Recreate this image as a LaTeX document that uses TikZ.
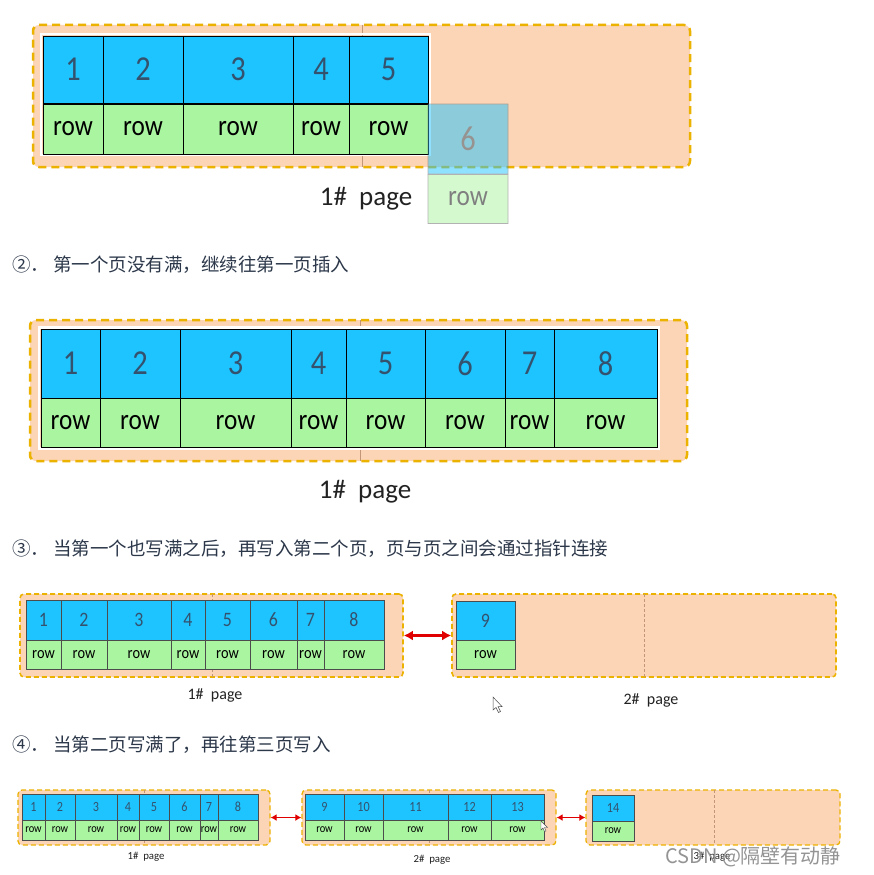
\documentclass[tikz,border=0pt]{standalone}
\usepackage{fontspec}
\setmainfont{Carlito}
\newfontfamily\cellfont[FakeStretch=0.87]{Carlito}
\newfontfamily\cjk{Noto Sans CJK SC}
\usetikzlibrary{arrows.meta}
\definecolor{cellblue}{RGB}{30,196,255}
\definecolor{cellgreen}{RGB}{170,245,160}
\definecolor{pagefill}{RGB}{251,213,181}
\definecolor{pagedash}{RGB}{236,178,0}
\definecolor{digitc}{RGB}{52,82,110}
\definecolor{headtext}{RGB}{44,56,74}
\definecolor{arrowred}{RGB}{225,0,0}
\definecolor{splitc}{RGB}{196,150,120}
\definecolor{labelc}{RGB}{34,34,34}
\tikzset{
  pagebig/.style={draw=pagedash, fill=pagefill, dash pattern=on 8pt off 5pt, line width=2.5pt, rounded corners=6pt, inner sep=0pt},
  pagesmall/.style={draw=pagedash, fill=pagefill, dash pattern=on 5pt off 3pt, line width=1.6pt, rounded corners=4pt, inner sep=0pt},
  bluecell/.style={draw=black, fill=cellblue, line width=0.9pt, inner sep=0pt, text=digitc},
  greencell/.style={draw=black, fill=cellgreen, line width=0.9pt, inner sep=0pt, text=black},
  bluesm/.style={bluecell, draw=black!70},
  greensm/.style={greencell, draw=black!70},
  heading/.style={anchor=west, inner sep=0pt, text=headtext, font=\cjk\fontsize{18.5}{22}\selectfont},
  pagelabel/.style={inner sep=0pt, text=labelc},
  splitline/.style={draw=splitc, line width=0.6pt},
  splitdash/.style={draw=splitc, line width=0.6pt, dash pattern=on 3pt off 2pt},
  link/.style={draw=arrowred, line width=2.5pt, {Latex[length=9pt,width=10pt]}-{Latex[length=9pt,width=10pt]}},
  linksm/.style={draw=arrowred, line width=1.6pt, {Latex[length=6pt,width=7pt]}-{Latex[length=6pt,width=7pt]}},
}
\begin{document}
\begin{tikzpicture}[x=1pt,y=-1pt]
\useasboundingbox (0,0) rectangle (874,875);
\fill[white] (0,0) rectangle (874,875);

% ---------------- Section 1 ----------------
\node[pagebig, minimum width=657pt, minimum height=142pt] (pA) at (361.5,96) {};
\draw[splitline] (362,25) -- (362,167);
\draw[white, line width=2.2pt] (41,34) rectangle (430,155);
\foreach \xa/\xb/\lab [count=\i] in {43/103/1,103/183/2,183/293/3,293/349/4,349/428/5}{
  \node[bluecell, minimum width={(\xb-\xa)*1pt}, minimum height=67pt, font=\cellfont\fontsize{35}{38}\selectfont] (aB\i) at ({(\xa+\xb)/2},69.5) {\lab};
  \node[greencell, minimum width={(\xb-\xa)*1pt}, minimum height=50pt, font=\cellfont\fontsize{29}{32}\selectfont] (aG\i) at ({(\xa+\xb)/2},129) {row};
}
\begin{scope}[opacity=0.5, transparency group]
\node[bluecell, draw=black!60, minimum width=80pt, minimum height=70pt, font=\cellfont\fontsize{35}{38}\selectfont] (aB6) at (468,139) {6};
\node[greencell, draw=black!60, minimum width=80pt, minimum height=49pt, font=\cellfont\fontsize{29}{32}\selectfont] (aG6) at (468,199) {row};
\end{scope}
\node[pagelabel, font=\fontsize{27}{30}\selectfont] (lA) at (366,199) {1\#\ \ page};

% ---------------- Heading 2 ----------------
\node[heading] (h2) at (12,265) {②．\hspace{4pt}第一个页没有满，继续往第一页插入};

% ---------------- Section 2 ----------------
\node[pagebig, minimum width=657pt, minimum height=141pt] (pB) at (358.5,390.5) {};
\draw[splitline] (360.5,320) -- (360.5,461);
\draw[white, line width=2.2pt] (39,327.5) rectangle (658.5,448.5);
\foreach \xa/\xb/\lab [count=\i] in {41/100/1,100/180/2,180/291/3,291/346/4,346/425/5,425/505/6,505/554/7,554/657/8}{
  \node[bluecell, minimum width={(\xb-\xa)*1pt}, minimum height=69pt, font=\cellfont\fontsize{35}{38}\selectfont] (bB\i) at ({(\xa+\xb)/2},363.5) {\lab};
  \node[greencell, minimum width={(\xb-\xa)*1pt}, minimum height=49pt, font=\cellfont\fontsize{29}{32}\selectfont] (bG\i) at ({(\xa+\xb)/2},423) {row};
}
\node[pagelabel, font=\fontsize{27}{30}\selectfont] (lB) at (365,492) {1\#\ \ page};

% ---------------- Heading 3 ----------------
\node[heading] (h3) at (12,549) {③．\hspace{4pt}当第一个也写满之后，再写入第二个页，页与页之间会通过指针连接};

% ---------------- Section 3 ----------------
\node[pagesmall, minimum width=383pt, minimum height=83pt] (pC1) at (211.5,635.5) {};
\draw[splitdash] (212,594) -- (212,677);
\foreach \xa/\xb/\lab [count=\i] in {26/61/1,61/107/2,107/171/3,171/205/4,205/250/5,250/297/6,297/324/7,324/384/8}{
  \node[bluesm, minimum width={(\xb-\xa)*1pt}, minimum height=40pt, font=\cellfont\fontsize{20.5}{23}\selectfont] (cB\i) at ({(\xa+\xb)/2},620) {\lab};
  \node[greensm, minimum width={(\xb-\xa)*1pt}, minimum height=29pt, font=\cellfont\fontsize{16.5}{19}\selectfont] (cG\i) at ({(\xa+\xb)/2},655) {row};
}
\node[pagelabel, font=\fontsize{16}{19}\selectfont] (lC1) at (215,695) {1\#\ \ page};

\node[pagesmall, minimum width=384pt, minimum height=83pt] (pC2) at (644,635.5) {};
\draw[splitdash] (644,594) -- (644,677);
\node[bluesm, minimum width=59pt, minimum height=39pt, font=\cellfont\fontsize{20.5}{23}\selectfont] (cB9) at (485.5,620.5) {9};
\node[greensm, minimum width=59pt, minimum height=29pt, font=\cellfont\fontsize{16.5}{19}\selectfont] (cG9) at (485.5,655) {row};
\node[pagelabel, font=\fontsize{16}{19}\selectfont] (lC2) at (651,700) {2\#\ \ page};
\draw[link] (pC1.east) -- (pC2.west);
\draw[black!70, fill=white, line width=0.5pt] (493,697) -- (493,710) -- (496,707.5) -- (498.5,712.5) -- (500.5,711.5) -- (498,706.5) -- (502,706.5) -- cycle;

% ---------------- Heading 4 ----------------
\node[heading] (h4) at (12,745) {④．\hspace{4pt}当第二页写满了，再往第三页写入};

% ---------------- Section 4 ----------------
\node[pagesmall, line width=1.3pt, minimum width=252pt, minimum height=55pt] (pD1) at (144,817.5) {};
\draw[splitdash] (144,790) -- (144,845);
\foreach \xa/\xb/\lab [count=\i] in {22/45/1,45/75/2,75/117/3,117/139/4,139/169/5,169/200/6,200/218/7,218/258/8}{
  \node[bluesm, minimum width={(\xb-\xa)*1pt}, minimum height=26pt, font=\cellfont\fontsize{14}{16}\selectfont] (dB\i) at ({(\xa+\xb)/2},807) {\lab};
  \node[greensm, minimum width={(\xb-\xa)*1pt}, minimum height=20pt, font=\cellfont\fontsize{12}{14}\selectfont] (dG\i) at ({(\xa+\xb)/2},830) {row};
}
\node[pagelabel, font=\fontsize{10.8}{13}\selectfont] (lD1) at (146,857) {1\#\ \ page};

\node[pagesmall, line width=1.3pt, minimum width=254pt, minimum height=55pt] (pD2) at (429,817.5) {};
\draw[splitdash] (429,790) -- (429,845);
\foreach \xa/\xb/\lab [count=\i] in {305/344/9,344/383/10,383/448/11,448/491/12,491/544/13}{
  \node[bluesm, minimum width={(\xb-\xa)*1pt}, minimum height=26pt, font=\cellfont\fontsize{14}{16}\selectfont] (eB\i) at ({(\xa+\xb)/2},807) {\lab};
  \node[greensm, minimum width={(\xb-\xa)*1pt}, minimum height=20pt, font=\cellfont\fontsize{12}{14}\selectfont] (eG\i) at ({(\xa+\xb)/2},830) {row};
}
\node[pagelabel, font=\fontsize{10.8}{13}\selectfont] (lD2) at (432,860) {2\#\ \ page};

\node[pagesmall, line width=1.3pt, minimum width=254pt, minimum height=55pt] (pD3) at (713,817.5) {};
\draw[splitdash] (714,790) -- (714,845);
\node[bluesm, minimum width=42pt, minimum height=26pt, font=\cellfont\fontsize{14}{16}\selectfont] (fB1) at (613,808) {14};
\node[greensm, minimum width=42pt, minimum height=20pt, font=\cellfont\fontsize{12}{14}\selectfont] (fG1) at (613,831) {row};
\node[pagelabel, font=\fontsize{10.8}{13}\selectfont] (lD3) at (712,857) {3\#\ \ page};
\node[anchor=west, inner sep=0pt, text=black!42, font=\cjk\fontsize{20}{24}\selectfont] (wm) at (665,857) {CSDN @隔壁有动静};

\draw[linksm] (pD1.east) -- (pD2.west);
\draw[linksm] (pD2.east) -- (pD3.west);
\draw[black!70, fill=white, line width=0.4pt] (541,821) -- (541,830) -- (543,828) -- (544.5,831.5) -- (546,831) -- (544.5,827.5) -- (547.5,827.5) -- cycle;
\end{tikzpicture}
\end{document}
